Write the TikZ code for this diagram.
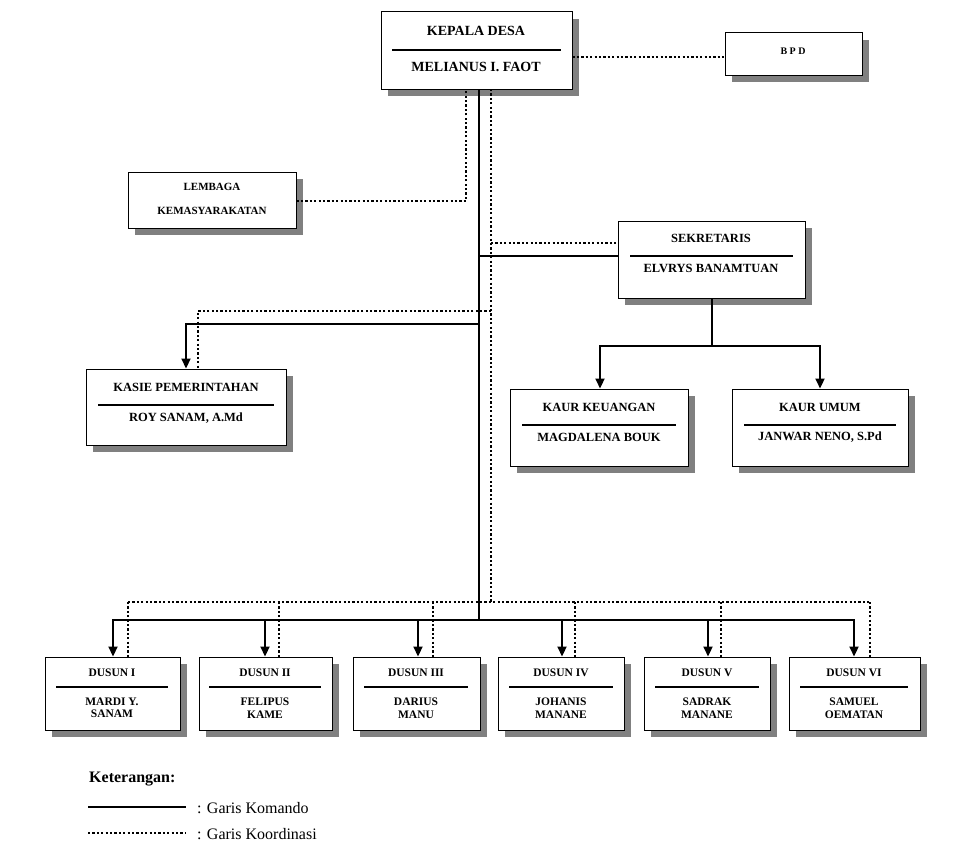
\documentclass[tikz,border=0pt]{standalone}
\usepackage{fontspec}
\setmainfont{Liberation Serif}
\usetikzlibrary{shadows,arrows.meta}
\begin{document}
\begin{tikzpicture}[x=1pt,y=-1pt,
  box/.style={draw,line width=1pt,fill=white,inner sep=0,drop shadow={shadow xshift=7pt,shadow yshift=-7pt,fill=black!50,opacity=1}},
  tx/.style={font=\bfseries\fontsize{#1}{#1}\selectfont,inner sep=0,align=center},
  tx/.default=12,
  cmd/.style={line width=2.2pt},
  crd/.style={line width=2.2pt,dash pattern=on 2.2pt off 2.2pt},
  arr/.style={cmd,-{Triangle[length=10pt,width=9pt]}},
  sep/.style={line width=1.6pt}]
\useasboundingbox (0,0) rectangle (966,851);
% boxes
\newcommand{\bx}[5]{\node[box,minimum width=#3-#2,minimum height=#5-#4] (#1) at ({(#2+#3)/2},{(#4+#5)/2}) {};}
\bx{kd}{381}{572}{12}{89}
\bx{bpd}{725}{862}{33}{75}
\bx{lem}{128}{296}{172}{228}
\bx{sek}{618}{805}{221}{298}
\bx{kas}{86}{286}{369}{445}
\bx{keu}{510}{688}{389}{466}
\bx{umu}{732}{908}{389}{466}
\bx{d1}{45}{180}{657}{730}
\bx{d2}{199}{332}{657}{730}
\bx{d3}{353}{480}{657}{730}
\bx{d4}{498}{624}{657}{730}
\bx{d5}{644}{770}{657}{730}
\bx{d6}{789}{920}{657}{730}
% texts
\node[tx=14] (kdt) at (476,31) {KEPALA DESA};
\draw[sep] (392,50)--(561,50);
\node[tx=14] (kdn) at (476,67) {MELIANUS I. FAOT};
\node[tx=10] (bpdt) at (793,51) {B P D};
\node[tx=11] (lem1) at (212,187) {LEMBAGA};
\node[tx=11] (lem2) at (212,211) {KEMASYARAKATAN};
\node[tx=12.5] (sekt) at (711,238) {SEKRETARIS};
\draw[sep] (630,256)--(793,256);
\node[tx=12.5] (sekn) at (711,268) {ELVRYS BANAMTUAN};
\node[tx=12.5] (kast) at (186,387) {KASIE PEMERINTAHAN};
\draw[sep] (98,405)--(274,405);
\node[tx=12.5] (kasn) at (186,418) {ROY SANAM, A.Md};
\node[tx=12.5] (keut) at (599,407) {KAUR KEUANGAN};
\draw[sep] (522,425)--(676,425);
\node[tx=12.5] (keun) at (599,437) {MAGDALENA BOUK};
\node[tx=12.5] (umut) at (820,407) {KAUR UMUM};
\draw[sep] (744,425)--(896,425);
\node[tx=12.5] (umun) at (820,437) {JANWAR NENO, S.Pd};
\newcommand{\dz}[6]{\node[tx=11.5] (#1t) at (#2,673) {#3};
 \draw[sep] ({#2-#4},687)--({#2+#4},687);
 \node[tx=11.5] (#1n) at (#2,708) {#5\\[1pt]#6};}
\dz{d1}{112}{DUSUN I}{56}{MARDI Y.}{SANAM}
\dz{d2}{265}{DUSUN II}{56}{FELIPUS}{KAME}
\dz{d3}{416}{DUSUN III}{52}{DARIUS}{MANU}
\dz{d4}{561}{DUSUN IV}{52}{JOHANIS}{MANANE}
\dz{d5}{707}{DUSUN V}{52}{SADRAK}{MANANE}
\dz{d6}{854}{DUSUN VI}{54}{SAMUEL}{OEMATAN}
% coordination lines
\draw[crd] (kd.east |- 0,57) -- (bpd.west |- 0,57);
\draw[crd] (lem.east |- 0,201) -- (466,201) -- (466,89);
\draw[crd] (491,89) -- (491,602);
\draw[crd] (491,243) -- (sek.west |- 0,243);
\draw[crd] (491,311) -- (198,311) -- (198,369);
\draw[crd] (128,602) -- (870,602);
\foreach \x in {128,279,433,575,721,870}{\draw[crd] (\x,602) -- (\x,657);}
% command lines
\draw[cmd] (479,89) -- (479,620);
\draw[cmd] (479,256) -- (sek.west |- 0,256);
\draw[cmd] (479,324) -- (186,324);
\draw[arr] (186,323) -- (kas.north -| 186,0);
\draw[cmd] (sek.south -| 712,0) -- (712,346);
\draw[cmd] (600,346) -- (820,346);
\draw[arr] (600,345) -- (keu.north -| 600,0);
\draw[arr] (820,345) -- (umu.north -| 820,0);
\draw[cmd] (113,620) -- (854,620);
\foreach \x/\n in {113/d1,265/d2,418/d3,562/d4,708/d5,854/d6}{\draw[arr] (\x,619) -- (\n.north -| \x,0);}
% legend
\node[font=\bfseries\fontsize{16}{16}\selectfont,anchor=west,inner sep=0] (ket) at (89,779) {Keterangan:};
\coordinate (l1a) at (88,807); \coordinate (l1b) at (186,807);
\coordinate (l2a) at (88,833); \coordinate (l2b) at (186,833);
\draw[cmd] (l1a) -- (l1b);
\draw[crd] (l2a) -- (l2b);
\node[font=\fontsize{16}{16}\selectfont,anchor=west,inner sep=0] (g1) at (197,808) {: Garis Komando};
\node[font=\fontsize{16}{16}\selectfont,anchor=west,inner sep=0] (g2) at (197,834) {: Garis Koordinasi};
\end{tikzpicture}
\end{document}
